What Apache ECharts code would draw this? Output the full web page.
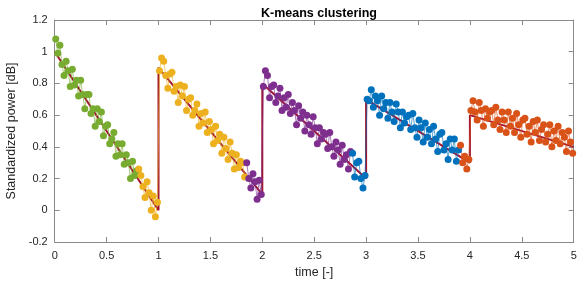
<!DOCTYPE html>
<html><head><meta charset="utf-8">
<script src="https://cdn.jsdelivr.net/npm/echarts@6/dist/echarts.min.js"></script>
<style>html,body{margin:0;padding:0;background:#fff}#c{width:578px;height:284px}</style>
</head><body><div id="c"></div>
<script>
// time offsets inside each 1-unit segment
const tOffsets = [0.01,0.03,0.05,0.07,0.09,0.11,0.13,0.15,0.17,0.19,0.21,0.23,0.25,0.27,0.29,0.31,0.33,0.35,0.37,0.39,0.41,0.43,0.45,0.47,0.49,0.51,0.53,0.55,0.57,0.59,0.61,0.63,0.65,0.67,0.69,0.71,0.73,0.75,0.77,0.79,0.81,0.83,0.85,0.87,0.89,0.91,0.93,0.95,0.97,0.99];
const segStarts = [0,1,2,3,4];
// measured values per segment
const seg1 = [1.08,0.99,1.04,0.92,0.85,0.94,0.88,0.78,0.89,0.79,0.82,0.72,0.82,0.73,0.64,0.73,0.73,0.61,0.64,0.53,0.64,0.56,0.62,0.47,0.53,0.54,0.42,0.45,0.49,0.34,0.42,0.35,0.42,0.29,0.35,0.30,0.20,0.31,0.22,0.25,0.26,0.22,0.15,0.08,0.18,0.11,0.00,0.09,-0.04,0.05];
const seg2 = [0.88,0.96,0.94,0.85,0.77,0.86,0.87,0.75,0.78,0.68,0.79,0.72,0.78,0.63,0.70,0.71,0.60,0.63,0.67,0.53,0.61,0.55,0.62,0.49,0.56,0.51,0.42,0.53,0.44,0.48,0.36,0.46,0.39,0.32,0.43,0.36,0.26,0.35,0.27,0.31,0.30,0.21,0.30,0.20,0.14,0.23,0.18,0.07,0.19,0.10];
const seg3 = [0.78,0.88,0.85,0.71,0.78,0.79,0.68,0.72,0.77,0.63,0.71,0.65,0.73,0.61,0.68,0.63,0.54,0.66,0.58,0.62,0.50,0.60,0.54,0.48,0.59,0.52,0.42,0.52,0.45,0.49,0.48,0.39,0.49,0.40,0.34,0.43,0.38,0.29,0.41,0.32,0.35,0.26,0.37,0.36,0.21,0.30,0.31,0.20,0.14,0.22];
const seg4 = [0.70,0.69,0.76,0.65,0.72,0.69,0.60,0.72,0.64,0.68,0.58,0.68,0.62,0.56,0.67,0.62,0.52,0.62,0.55,0.59,0.60,0.51,0.61,0.52,0.46,0.57,0.52,0.43,0.55,0.46,0.51,0.42,0.53,0.45,0.37,0.48,0.49,0.38,0.42,0.32,0.45,0.38,0.45,0.31,0.38,0.41,0.30,0.34,0.26,0.32];
const seg5 = [0.63,0.69,0.62,0.57,0.68,0.63,0.53,0.64,0.58,0.62,0.63,0.54,0.65,0.57,0.51,0.62,0.57,0.49,0.62,0.53,0.58,0.49,0.61,0.54,0.46,0.57,0.58,0.48,0.53,0.43,0.56,0.49,0.57,0.44,0.51,0.54,0.43,0.48,0.54,0.40,0.50,0.44,0.53,0.42,0.49,0.46,0.37,0.50,0.43,0.36];
// true sawtooth signal
const trueX = [0,1,1,2,2,3,3,4,4,5];
const trueY = [1.0,0.0,0.9,0.1,0.8,0.2,0.7,0.3,0.6,0.4];
// cluster membership: [segment index, first point, last point] ranges
const clusterNames = ['C1','C2','C3','C4','C5'];
const clusterColors = ['#77AC30','#EDB120','#7E2F8E','#0072BD','#D95319'];
const clusterRanges = [
  [[0,0,39]],
  [[0,40,49],[1,0,41]],
  [[1,42,49],[2,0,42]],
  [[2,43,49],[3,0,44]],
  [[3,45,49],[4,0,49]]
];
const segs = [seg1,seg2,seg3,seg4,seg5];

const series = [{
  type:'line', data: trueX.map((x,i)=>[x,trueY[i]]), symbol:'none',
  lineStyle:{color:'#A2142F', width:2}, z:1, animation:false
}];
clusterRanges.forEach((ranges,ci)=>{
  const d = [];
  ranges.forEach(([s,a,b])=>{ for(let i=a;i<=b;i++) d.push([segStarts[s]+tOffsets[i], segs[s][i]]); });
  series.push({type:'line', name:clusterNames[ci], data:d, symbol:'circle', symbolSize:7,
    itemStyle:{color:clusterColors[ci]}, lineStyle:{color:clusterColors[ci], width:0.8, opacity:0.8},
    z:2, animation:false});
});

const axisCol = '#8a8a8a';
const ff = 'Liberation Sans, Arial, sans-serif';
const lblStyle = {color:'#262626', fontSize:11, fontFamily:ff};
const chart = echarts.init(document.getElementById('c'));
chart.setOption({
  animation:false,
  title:{text:'K-means clustering', left:314, top:2, textAlign:'center',
    textStyle:{fontSize:12.5, fontWeight:'bold', color:'#000', fontFamily:ff}},
  grid:{left:54.7, right:4.3, top:20, bottom:42, outerBoundsMode:'none', containLabel:false},
  xAxis:[{type:'value', min:0, max:5, interval:0.5, name:'time [-]', nameLocation:'middle', nameGap:23,
    nameTextStyle:{color:'#262626', fontSize:12.5, fontFamily:ff},
    axisLine:{onZero:false, lineStyle:{color:axisCol}}, axisTick:{inside:true, length:5, lineStyle:{color:axisCol}},
    axisLabel:Object.assign({margin:8}, lblStyle), splitLine:{show:false}},
    {type:'value', position:'top', min:0, max:5, interval:0.5,
    axisLine:{onZero:false, lineStyle:{color:axisCol}}, axisTick:{inside:true, length:5, lineStyle:{color:axisCol}},
    axisLabel:{show:false}, splitLine:{show:false}}],
  yAxis:[{type:'value', min:-0.2, max:1.2, interval:0.2, name:'Standardized power [dB]', nameLocation:'middle', nameGap:31,
    nameTextStyle:{color:'#262626', fontSize:12.5, fontFamily:ff},
    axisLine:{show:true, onZero:false, lineStyle:{color:axisCol}}, axisTick:{show:true, inside:true, length:5, lineStyle:{color:axisCol}},
    axisLabel:Object.assign({margin:7}, lblStyle), splitLine:{show:false}},
    {type:'value', position:'right', min:-0.2, max:1.2, interval:0.2,
    axisLine:{show:true, onZero:false, lineStyle:{color:axisCol}}, axisTick:{show:true, inside:true, length:5, lineStyle:{color:axisCol}},
    axisLabel:{show:false}, splitLine:{show:false}}],
  series: series
});
</script></body></html>
